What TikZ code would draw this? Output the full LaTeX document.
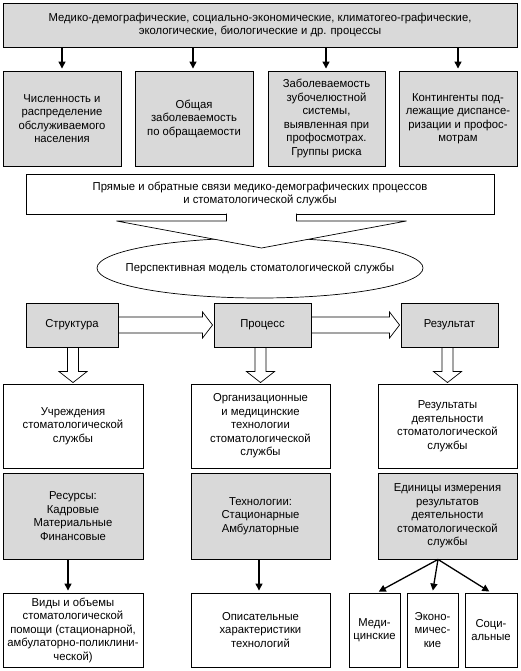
\documentclass[tikz,border=0pt]{standalone}
\usepackage{fontspec}
\setmainfont{Liberation Sans}[FakeStretch=0.98]
\usetikzlibrary{arrows.meta,calc,shapes.geometric}
\definecolor{boxgray}{HTML}{D9D9D9}
\newcommand{\hblk}[2]{%
  \draw[blkline] ($(#1.east)+(0,-8)$) -- ($(#2.west)+(-11,-8)$) -- ($(#2.west)+(-11,-13)$) -- ($(#2.west)+(-1,0)$) -- ($(#2.west)+(-11,13)$) -- ($(#2.west)+(-11,8)$) -- ($(#1.east)+(0,8)$);}
\newcommand{\vblk}[2]{%
  \coordinate (vbs) at (#1.south -| #2.north);
  \draw[blkline] ($(vbs)+(-5.5,0)$) -- ($(#2.north)+(-5.5,-12)$) -- ($(#2.north)+(-14,-12)$) -- ($(#2.north)+(0,-1)$) -- ($(#2.north)+(14,-12)$) -- ($(#2.north)+(5.5,-12)$) -- ($(vbs)+(5.5,0)$);}
\begin{document}
\begin{tikzpicture}[x=1pt,y=-1pt,
  font=\fontsize{11.5}{13.5}\selectfont,
  box/.style={draw, line width=0.9pt, align=center, inner sep=0pt, anchor=center},
  gbox/.style={box, fill=boxgray},
  wbox/.style={box, fill=white},
  arr/.style={line width=1.3pt, -{Triangle[length=7pt,width=7pt]}, shorten >=2pt},
  blkline/.style={line width=0.7pt, line join=miter},
]
\useasboundingbox (0,0) rectangle (521,671);
% top
\node[gbox, minimum width=514, minimum height=44] (top) at (260,25)
  {Медико-демографические, социально-экономические, климатогео-графические,\\экологические, биологические и др. процессы};
% row 2
\node[gbox, minimum width=118, minimum height=95] (a1) at (62,118.5)
  {Численность и\\распределение\\обслуживаемого\\населения};
\node[gbox, minimum width=118, minimum height=95] (a2) at (194,118.5)
  {Общая\\заболеваемость\\по обращаемости};
\node[gbox, minimum width=117, minimum height=95] (a3) at (326.5,118.5)
  {Заболеваемость\\зубочелюстной\\системы,\\выявленная при\\профосмотрах.\\Группы риска};
\node[gbox, minimum width=118, minimum height=95] (a4) at (458,118.5)
  {Контингенты под-\\лежащие диспансе-\\ризации и профос-\\мотрам};
\foreach \n/\x in {a1/62,a2/193,a3/326,a4/458}
  \draw[arr] (top.south -| \x,0) -- (\n.north -| \x,0);
% wide box
\node[wbox, minimum width=468, minimum height=40] (wide) at (260,194)
  {Прямые и обратные связи медико-демографических процессов\\и стоматологической службы};
% ellipse
\node[ellipse, draw, line width=0.7pt, minimum width=326, minimum height=60, inner sep=0pt, fill=white] (ell) at (260,268)
  {\makebox[0pt]{Перспективная модель стоматологической службы}};
% big block arrow from wide box to ellipse
\coordinate (wb) at (261.5,214);
\fill[white] ($(wb)+(-35,-1.5)$) rectangle ($(wb)+(35,1.5)$);
\filldraw[blkline, fill=white] ($(wb)+(-35,-0.45)$) -- ($(wb)+(-35,7)$) -- ($(wb)+(-145,7)$) -- ($(wb)+(0,34)$) -- ($(wb)+(145,7)$) -- ($(wb)+(35,7)$) -- ($(wb)+(35,-0.45)$);
% row 3
\node[gbox, minimum width=92, minimum height=44] (s) at (72,325) {Структура};
\node[gbox, minimum width=97, minimum height=44] (p) at (262.5,325) {Процесс};
\node[gbox, minimum width=97, minimum height=44] (r) at (449.5,325) {Результат};
\hblk{s}{p}
\hblk{p}{r}
% row 4
\node[wbox, minimum width=140, minimum height=84] (b1) at (73,426)
  {Учреждения\\стоматологической\\службы};
\node[wbox, minimum width=139, minimum height=84] (b2) at (260.5,426)
  {Организационные\\и медицинские\\технологии\\стоматологической\\службы};
\node[wbox, minimum width=139, minimum height=84] (b3) at (447.5,426)
  {Результаты\\деятельности\\стоматологической\\службы};
\vblk{s}{b1}
\vblk{p}{b2}
\vblk{r}{b3}
% row 5
\node[gbox, minimum width=140, minimum height=86] (c1) at (73,516)
  {Ресурсы:\\Кадровые\\Материальные\\Финансовые};
\node[gbox, minimum width=139, minimum height=86] (c2) at (260.5,516)
  {Технологии:\\Стационарные\\Амбулаторные};
\node[gbox, minimum width=139, minimum height=86] (c3) at (447.5,516)
  {Единицы измерения\\результатов\\деятельности\\стоматологической\\службы};
% row 6
\node[wbox, minimum width=140, minimum height=74] (d1) at (73,630)
  {Виды и объемы\\стоматологической\\помощи (стационарной,\\амбулаторно-поликлини-\\ческой)};
\node[wbox, minimum width=139, minimum height=74] (d2) at (260.5,630)
  {Описательные\\характеристики\\технологий};
\node[wbox, minimum width=51, minimum height=74] (m1) at (374.5,630) {Меди-\\цинские};
\node[wbox, minimum width=51, minimum height=74] (m2) at (432.5,630) {Эконо-\\мичес-\\кие};
\node[wbox, minimum width=52, minimum height=74] (m3) at (491,630) {Соци-\\альные};
\draw[arr] ([xshift=-5pt]c1.south) -- ([xshift=-5pt]d1.north);
\draw[arr] ([xshift=-1.5pt]c2.south) -- ([xshift=-1.5pt]d2.north);
\coordinate (fan) at ($(c3.south)+(-9.5,0)$);
\draw[arr] (fan) -- ($(m1.north)+(2.5,0)$);
\draw[arr] (fan) -- (m2.north);
\draw[arr] (fan) -- (m3.north);
\end{tikzpicture}
\end{document}
